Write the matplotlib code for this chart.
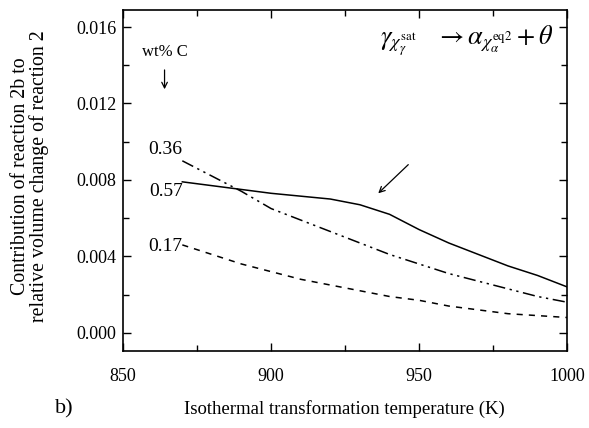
import matplotlib
matplotlib.use('Agg')
import matplotlib.pyplot as plt
from matplotlib.ticker import MultipleLocator, FormatStrFormatter

plt.rcParams['font.family'] = ['Liberation Serif', 'DejaVu Serif']
plt.rcParams['mathtext.fontset'] = 'stix'

# isothermal transformation temperature (K)
temp_057 = [870, 880, 900, 920, 930, 940, 950, 960, 970, 980, 990, 1000]
vol_057 = [0.0079, 0.0077, 0.0073, 0.0070, 0.0067, 0.0062, 0.0054, 0.0047, 0.0041, 0.0035, 0.0030, 0.0024]

temp_036 = [870, 880, 890, 900, 910, 920, 930, 940, 950, 960, 970, 980, 990, 1000]
vol_036 = [0.0090, 0.0082, 0.0074, 0.0065, 0.0059, 0.0053, 0.0047, 0.0041, 0.0036, 0.0031, 0.0027, 0.0023, 0.0019, 0.0016]

temp_017 = [870, 880, 890, 900, 910, 920, 930, 940, 950, 960, 970, 980, 990, 1000]
vol_017 = [0.0046, 0.0041, 0.0036, 0.0032, 0.0028, 0.0025, 0.0022, 0.0019, 0.0017, 0.0014, 0.0012, 0.0010, 0.0009, 0.0008]

curve_labels = ['0.36', '0.57', '0.17']

fig = plt.figure(figsize=(5.89, 4.28), dpi=100)
ax = fig.add_axes([0.209, 0.180, 0.754, 0.797])

ax.plot(temp_057, vol_057, color='black', lw=1.1, ls='-')
ax.plot(temp_036, vol_036, color='black', lw=1.1, ls=(0, (8, 3, 1.5, 3, 1.5, 3)))
ax.plot(temp_017, vol_017, color='black', lw=1.1, ls=(0, (4, 4)))

ax.set_xlim(850, 1000)
ax.set_ylim(-0.00095, 0.0169)
ax.xaxis.set_major_locator(MultipleLocator(50))
ax.xaxis.set_minor_locator(MultipleLocator(25))
ax.yaxis.set_major_locator(MultipleLocator(0.004))
ax.yaxis.set_minor_locator(MultipleLocator(0.002))
ax.yaxis.set_major_formatter(FormatStrFormatter('%.3f'))
ax.tick_params(which='both', direction='in', top=True, right=True, labelsize=13, width=1.0)
ax.tick_params(which='major', length=6)
ax.tick_params(which='minor', length=4)
ax.tick_params(axis='x', pad=12)
ax.tick_params(axis='y', pad=5)
for sp in ax.spines.values():
    sp.set_linewidth(1.2)

fig.text(0.051, 0.589, 'Contribution of reaction 2b to\nrelative volume change of reaction 2',
         rotation=90, ha='center', va='center', fontsize=14.3, linespacing=1.0)
fig.text(0.585, 0.044, 'Isothermal transformation temperature (K)', ha='center', va='center', fontsize=13.5)
fig.text(0.109, 0.044, 'b)', ha='center', va='center', fontsize=16)

# curve labels
for lab, x, y in zip(curve_labels, [864.4, 864.4, 864.4], [0.0096, 0.0074, 0.0045]):
    ax.text(x, y, lab, ha='center', va='center', fontsize=14)

ax.text(864, 0.0147, 'wt% C', ha='center', va='center', fontsize=12)
ax.annotate('', xy=(864, 0.0126), xytext=(864, 0.0139),
            arrowprops=dict(arrowstyle='->', color='black', lw=0.9))
ax.annotate('', xy=(935.5, 0.0072), xytext=(947, 0.0089),
            arrowprops=dict(arrowstyle='->', color='black', lw=0.9))

ax.text(0.969, 0.9,
        r'$\gamma_{\chi_{\gamma}^{\mathrm{sat}}}\ \ \ \rightarrow\alpha_{\chi_{\alpha}^{\mathrm{eq2}}}+\theta$',
        transform=ax.transAxes, ha='right', va='baseline', fontsize=19)

fig.savefig('out.png', dpi=100)
